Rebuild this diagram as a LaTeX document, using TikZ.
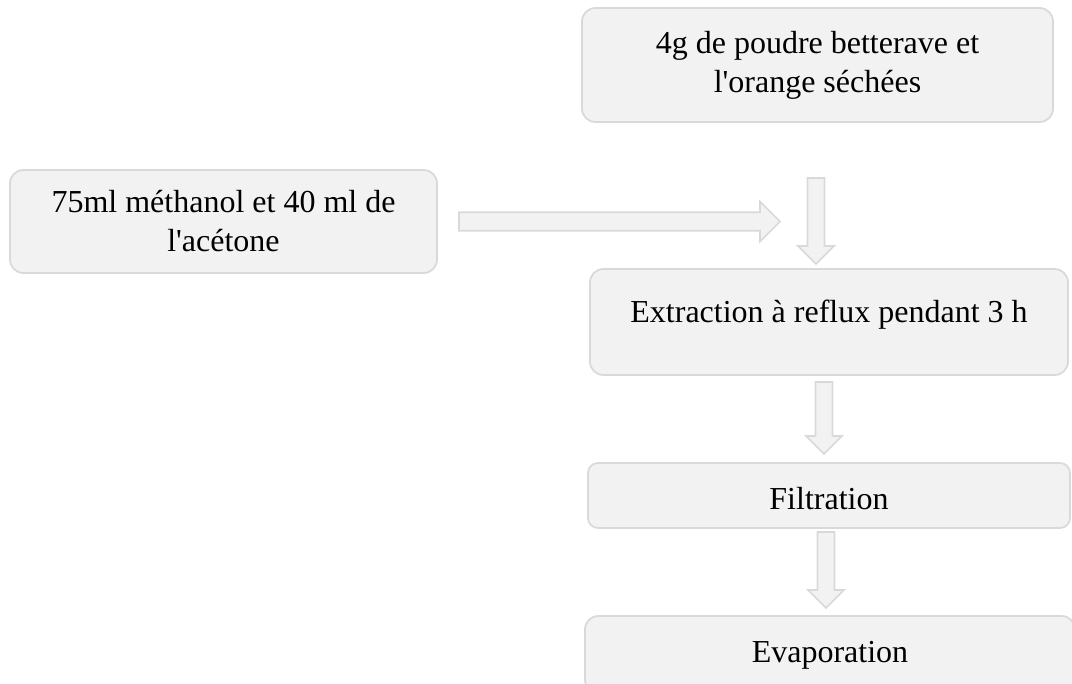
\documentclass[tikz,border=0pt]{standalone}
\usepackage{fontspec}
\setmainfont{Liberation Serif}
\usetikzlibrary{calc}

\definecolor{boxfill}{HTML}{F2F2F2}
\definecolor{boxline}{HTML}{D9D9D9}

\newcommand{\downblock}[2]{%
  \draw[block] let \p1=(#1), \p2=(#2) in
    (\x1-6.4pt,\y1) -- (\x1+6.4pt,\y1) -- (\x1+6.4pt,\y2+13.5pt) -- (\x1+13.5pt,\y2+13.5pt)
    -- (\x1,\y2) -- (\x1-13.5pt,\y2+13.5pt) -- (\x1-6.4pt,\y2+13.5pt) -- cycle;}
\newcommand{\rightblock}[2]{%
  \draw[block] let \p1=(#1), \p2=(#2) in
    (\x1,\y1+7pt) -- (\x2-15pt,\y1+7pt) -- (\x2-15pt,\y1+15pt) -- (\x2,\y1)
    -- (\x2-15pt,\y1-15pt) -- (\x2-15pt,\y1-7pt) -- (\x1,\y1-7pt) -- cycle;}

\begin{document}
\begin{tikzpicture}[x=0.75pt,y=-0.75pt,
  stepbox/.style={draw=boxline,fill=boxfill,line width=1.3pt,rounded corners=10pt,
    align=center,inner sep=0pt,font=\fontsize{24}{29.25}\selectfont},
  block/.style={draw=boxline,fill=boxfill,line width=1.3pt,line join=miter}]
\useasboundingbox (0,0) rectangle (1072,684);

\node[stepbox,minimum width=353.25pt,minimum height=85.5pt] (raw) at (817.5,65)
  {4g de poudre betterave et\\l\textquotesingle orange séchées};
\node[stepbox,minimum width=320.25pt,minimum height=77.25pt] (solv) at (223.5,221.5)
  {75ml méthanol et 40 ml de\\l\textquotesingle acétone};
\node[stepbox,minimum width=358.5pt,minimum height=79.5pt,text height=16.5pt,text depth=15pt] (extr) at (829,322)
  {Extraction à reflux pendant 3 h};
\node[stepbox,minimum width=361.5pt,minimum height=48.75pt,rounded corners=7.5pt,text height=20.25pt,text depth=0pt] (filt) at (829,495.5)
  {Filtration};
\node[stepbox,minimum width=367.5pt,minimum height=57.75pt,text height=16.5pt,text depth=5.25pt] (evap) at (830,654.5)
  {Evaporation};

\coordinate (h1a) at (459,221.5);
\coordinate (h1b) at (780,221.5);
\coordinate (v1a) at (816,178);
\coordinate (v1b) at (816,264);
\coordinate (v2a) at (824,382);
\coordinate (v2b) at (824,454);
\coordinate (v3a) at (826,532);
\coordinate (v3b) at (826,608);

\rightblock{h1a}{h1b}
\downblock{v1a}{v1b}
\downblock{v2a}{v2b}
\downblock{v3a}{v3b}
\end{tikzpicture}
\end{document}
